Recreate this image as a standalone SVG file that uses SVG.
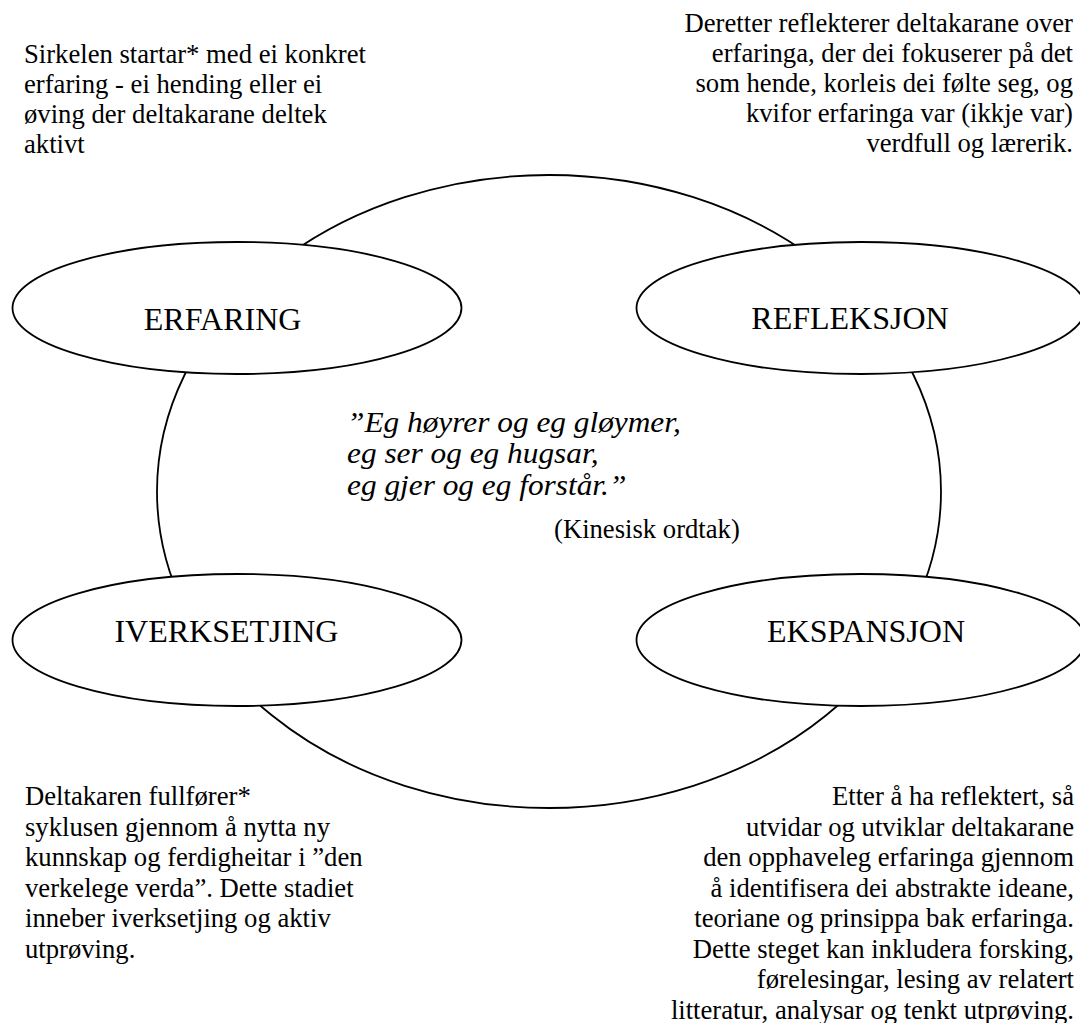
<svg xmlns="http://www.w3.org/2000/svg" width="1080" height="1023" viewBox="0 0 1080 1023">
  <style>
    text { font-family: "Liberation Serif", "Times New Roman", serif; fill: #000000; }
    .shape { fill: #ffffff; stroke: #000000; stroke-width: 1.8; }
    .ring { fill: none; stroke: #000000; stroke-width: 1.8; }
    .label { font-size: 32px; text-anchor: middle; }
    .body { font-size: 26.67px; }
    .quote { font-size: 28.5px; font-style: italic; }
    .end { text-anchor: end; }
  </style>
  <rect x="0" y="0" width="1080" height="1023" fill="#ffffff"/>

  <g id="connectors">
    <ellipse class="ring" cx="549" cy="491.5" rx="392" ry="316.5"/>
  </g>

  <g id="node-erfaring">
    <ellipse class="shape" cx="237" cy="308" rx="224.5" ry="66"/>
    <text class="label" x="222.6" y="330">ERFARING</text>
  </g>
  <g id="node-refleksjon">
    <ellipse class="shape" cx="861" cy="308" rx="224.5" ry="66"/>
    <text class="label" x="850" y="329">REFLEKSJON</text>
  </g>
  <g id="node-iverksetjing">
    <ellipse class="shape" cx="237" cy="640" rx="224.5" ry="66"/>
    <text class="label" x="226.4" y="642">IVERKSETJING</text>
  </g>
  <g id="node-ekspansjon">
    <ellipse class="shape" cx="861" cy="640" rx="224.5" ry="66"/>
    <text class="label" x="866" y="642">EKSPANSJON</text>
  </g>

  <g id="text-top-left">
    <text class="body" x="24" y="63">Sirkelen startar* med ei konkret</text>
    <text class="body" x="24" y="93">erfaring - ei hending eller ei</text>
    <text class="body" x="24" y="123">øving der deltakarane deltek</text>
    <text class="body" x="24" y="153">aktivt</text>
  </g>

  <g id="text-top-right">
    <text class="body end" x="1073" y="32">Deretter reflekterer deltakarane over</text>
    <text class="body end" x="1073" y="62">erfaringa, der dei fokuserer på det</text>
    <text class="body end" x="1073" y="92">som hende, korleis dei følte seg, og</text>
    <text class="body end" x="1073" y="122">kvifor erfaringa var (ikkje var)</text>
    <text class="body end" x="1073" y="152">verdfull og lærerik.</text>
  </g>

  <g id="text-quote">
    <g transform="translate(347 0) scale(1.1 1) translate(-347 0)">
      <text class="quote" x="347" y="432">”Eg høyrer og eg gløymer,</text>
      <text class="quote" x="347" y="463.5">eg ser og eg hugsar,</text>
      <text class="quote" x="347" y="495">eg gjer og eg forstår.”</text>
    </g>
    <text class="body" x="554" y="538">(Kinesisk ordtak)</text>
  </g>

  <g id="text-bottom-left">
    <text class="body" x="25" y="805">Deltakaren fullfører*</text>
    <text class="body" x="25" y="835.5">syklusen gjennom å nytta ny</text>
    <text class="body" x="25" y="866">kunnskap og ferdigheitar i ”den</text>
    <text class="body" x="25" y="896.5">verkelege verda”. Dette stadiet</text>
    <text class="body" x="25" y="927">inneber iverksetjing og aktiv</text>
    <text class="body" x="25" y="957.5">utprøving.</text>
  </g>

  <g id="text-bottom-right">
    <text class="body end" x="1074" y="805">Etter å ha reflektert, så</text>
    <text class="body end" x="1074" y="835.5">utvidar og utviklar deltakarane</text>
    <text class="body end" x="1074" y="866">den opphaveleg erfaringa gjennom</text>
    <text class="body end" x="1074" y="896.5">å identifisera dei abstrakte ideane,</text>
    <text class="body end" x="1074" y="927">teoriane og prinsippa bak erfaringa.</text>
    <text class="body end" x="1074" y="957.5">Dette steget kan inkludera forsking,</text>
    <text class="body end" x="1074" y="988">førelesingar, lesing av relatert</text>
    <text class="body end" x="1074" y="1018.5">litteratur, analysar og tenkt utprøving.</text>
  </g>
</svg>
